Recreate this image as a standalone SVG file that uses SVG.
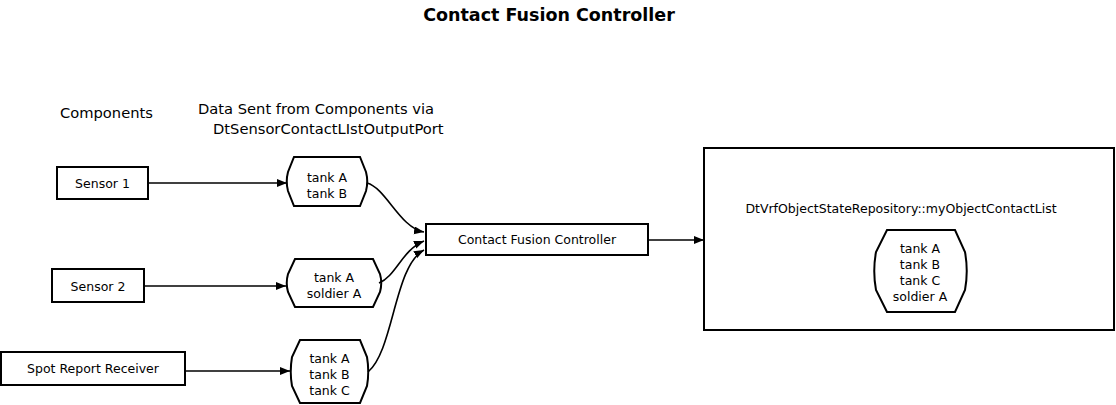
<svg xmlns="http://www.w3.org/2000/svg" width="1116" height="405" viewBox="0 0 1116 405">
<defs>
<marker id="ah" markerUnits="userSpaceOnUse" markerWidth="11" markerHeight="10" refX="10" refY="4" orient="auto">
<path d="M0,0 L10,4 L0,8 Z" fill="#000"/>
</marker>
<style>
text{font-family:"DejaVu Sans","Liberation Sans",sans-serif;font-size:12.5px;fill:#000}
.c{text-anchor:middle}
.h{font-size:14.7px}
.t{font-size:17.5px;font-weight:bold;text-anchor:middle}
.box{fill:#fff;stroke:#000;stroke-width:2}
.oct{fill:#fff;stroke:#000;stroke-width:2}
.cn{fill:none;stroke:#000;stroke-width:1.6;marker-end:url(#ah)}
</style>
</defs>
<rect width="1116" height="405" fill="#fff"/>
<text class="t" x="549" y="21">Contact Fusion Controller</text>
<text class="h" x="60" y="118">Components</text>
<text class="h" x="198" y="114">Data Sent from Components via</text>
<text class="h" x="213" y="134">DtSensorContactLIstOutputPort</text>

<g id="repository">
<rect class="box" x="704" y="148" width="410" height="182"/>
<text class="c" x="901" y="213">DtVrfObjectStateRepository::myObjectContactList</text>
</g>

<g id="sensor1">
<rect class="box" x="57" y="167" width="91" height="32"/>
<text class="c" x="102.5" y="187.5">Sensor 1</text>
</g>
<g id="sensor2">
<rect class="box" x="52" y="269" width="92" height="33"/>
<text class="c" x="98" y="290.5">Sensor 2</text>
</g>
<g id="spot">
<rect class="box" x="1" y="352" width="184" height="33"/>
<text class="c" x="93" y="373">Spot Report Receiver</text>
</g>
<g id="cfc">
<rect class="box" x="426" y="224" width="222" height="31"/>
<text class="c" x="537" y="244">Contact Fusion Controller</text>
</g>

<g id="data1">
<path class="oct" d="M294,157 H360 L366,172 Q368.5,181.5 366,191 L360,206 H294 L288,191 Q285.5,181.5 288,172 Z"/>
<text class="c" x="327" y="181.5">tank A</text>
<text class="c" x="327" y="197.5">tank B</text>
</g>
<g id="data2">
<path class="oct" d="M295,259 H373 L380,274 Q382.5,283 380,292 L373,307 H295 L288,292 Q285.5,283 288,274 Z"/>
<text class="c" x="334" y="281.5">tank A</text>
<text class="c" x="334" y="297.5">soldier A</text>
</g>
<g id="data3">
<path class="oct" d="M300,340 H360 L367,357 Q369.5,371.5 367,386 L360,403 H300 L292,386 Q289.5,371.5 292,357 Z"/>
<text class="c" x="329.5" y="362.5">tank A</text>
<text class="c" x="329.5" y="378.5">tank B</text>
<text class="c" x="329.5" y="394.5">tank C</text>
</g>
<g id="contactlist">
<path class="oct" d="M887,230 H955 L965,252 Q968.5,271 965,290 L955,312 H887 L876,290 Q872.5,271 876,252 Z"/>
<text class="c" x="920" y="253">tank A</text>
<text class="c" x="920" y="269">tank B</text>
<text class="c" x="920" y="285">tank C</text>
<text class="c" x="920" y="301">soldier A</text>
</g>

<g id="connectors">
<path class="cn" d="M148,183 H287"/>
<path class="cn" d="M144,286 H286"/>
<path class="cn" d="M185,371 H290"/>
<path class="cn" d="M367,183 C386,188 400,228 424,232"/>
<path class="cn" d="M379,283 C396,276 402,250 424,241"/>
<path class="cn" d="M368,372 C394,350 394,266 424,250"/>
<path class="cn" d="M648,240 H704"/>
</g>
</svg>
